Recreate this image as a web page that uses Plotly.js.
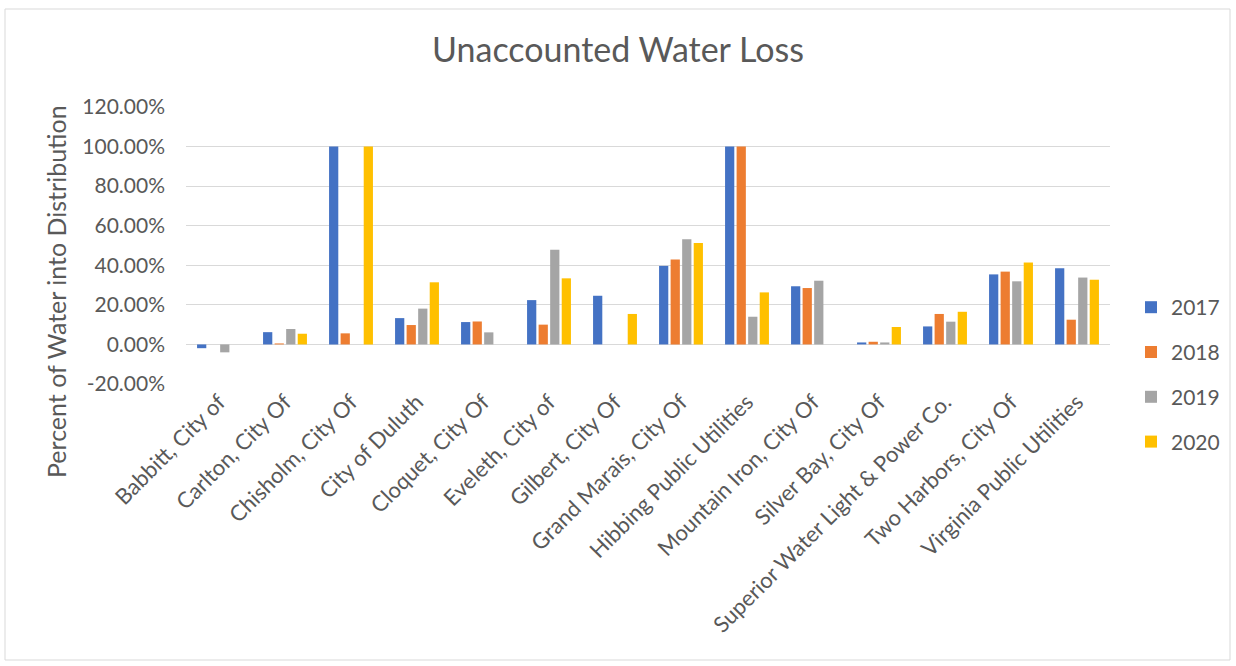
<!DOCTYPE html>
<html>
<head>
<meta charset="utf-8">
<script src="https://cdn.plot.ly/plotly-3.0.1.min.js"></script>
<style>html,body{margin:0;padding:0;background:#fff;}#chart{width:1236px;height:666px;}</style>
</head>
<body>
<div id="chart"></div>
<script>
const categories = ["Babbitt, City of","Carlton, City Of","Chisholm, City Of","City of Duluth","Cloquet, City Of","Eveleth, City of","Gilbert, City Of","Grand Marais, City Of","Hibbing Public Utilities","Mountain Iron, City Of","Silver Bay, City Of","Superior Water Light & Power Co.","Two Harbors, City Of","Virginia Public Utilities"];
const years = ["2017","2018","2019","2020"];
const v2017 = [-0.019,0.062,1.0,0.133,0.113,0.224,0.246,0.397,1.0,0.294,0.010,0.091,0.354,0.385];
const v2018 = [0,0.005,0.056,0.098,0.116,0.100,0,0.429,1.0,0.285,0.0135,0.154,0.368,0.125];
const v2019 = [-0.040,0.078,0,0.181,0.061,0.479,0,0.532,0.140,0.322,0.010,0.115,0.319,0.338];
const v2020 = [0,0.054,1.0,0.314,0,0.334,0.154,0.513,0.263,0,0.088,0.165,0.414,0.327];
const tickVals = [-0.2,0,0.2,0.4,0.6,0.8,1.0,1.2];
const tickLabels = ["-20.00%","0.00%","20.00%","40.00%","60.00%","80.00%","100.00%","120.00%"];
const colors = ["#4472C4","#ED7D31","#A5A5A5","#FFC000"];
const series = [v2017,v2018,v2019,v2020];

const FONT = "Lato, 'Open Sans', sans-serif";
const traces = series.map((vals,i)=>({
  type:'bar', name:years[i], x:categories, y:vals,
  marker:{color:colors[i], line:{width:0}},
  legendgroup:years[i], hoverinfo:'x+y'
}));

const layout = {
  width:1236, height:666,
  margin:{l:186, r:126, t:107, b:282, autoexpand:false},
  paper_bgcolor:'#fff', plot_bgcolor:'#fff',
  font:{family:FONT, color:'#595959', size:21},
  title:{text:'Unaccounted Water Loss', font:{family:FONT, size:34, color:'#595959'}, x:0.5, xref:'container', y:0.925, yref:'container', yanchor:'middle'},
  barmode:'group', bargap:0.3, bargroupgap:0.2,
  xaxis:{tickangle:-45, tickfont:{size:22, color:'#595959', family:FONT}, showgrid:false, showline:false, ticks:'', zeroline:false, automargin:false},
  yaxis:{range:[-0.2,1.2], tickmode:'array', tickvals:tickVals, ticktext:tickLabels, showgrid:true, gridcolor:'#d9d9d9', gridwidth:1,
         zeroline:true, zerolinecolor:'#d9d9d9', zerolinewidth:1, showline:false, ticks:'', ticklen:0, ticklabelstandoff:20,
         tickfont:{size:21, color:'#595959', family:FONT}, automargin:false},
  legend:{x:1.0227, xanchor:'left', y:0.35, yanchor:'top', bgcolor:'rgba(0,0,0,0)', font:{size:21, color:'#595959', family:FONT}, tracegroupgap:14.5, traceorder:'grouped'},
  showlegend:true,
  annotations:[{text:'Percent of Water into Distribution', textangle:-90, xref:'paper', yref:'paper', x:(56-186)/924, y:(384-292)/277, xanchor:'center', yanchor:'middle', showarrow:false, font:{size:25, color:'#595959', family:FONT}}],
  shapes:[{type:'rect', xref:'paper', yref:'paper', x0:(5-186)/924, x1:(1230-186)/924, y0:(384-660)/277, y1:(384-9)/277, line:{color:'#d9d9d9', width:1}, fillcolor:'rgba(0,0,0,0)', layer:'below'}]
};
Plotly.newPlot('chart', traces, layout, {displayModeBar:false, staticPlot:true});
</script>
</body>
</html>
